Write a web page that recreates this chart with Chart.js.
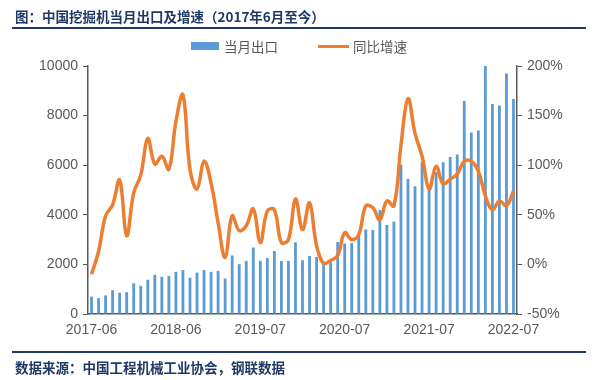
<!DOCTYPE html>
<html>
<head>
<meta charset="utf-8">
<script src="https://cdn.jsdelivr.net/npm/chart.js@4/dist/chart.umd.min.js"></script>
<style>
  html, body { margin: 0; padding: 0; background: #ffffff; }
  #wrap { position: relative; width: 600px; height: 380px; overflow: hidden; font-family: "Noto Sans CJK SC", "Noto Sans", sans-serif; }
  #c { position: absolute; left: 0; top: 0; }
  .title { position: absolute; left: 15px; top: 6px; font-size: 13.5px; font-weight: bold; color: #1F3864; white-space: nowrap; }
  .rule { position: absolute; left: 12px; width: 574px; background: #1F3864; }
  .src { position: absolute; left: 15px; top: 357px; font-size: 13.5px; font-weight: bold; color: #1F3864; white-space: nowrap; }
  .legend { position: absolute; top: 37px; font-size: 13.5px; color: #595959; white-space: nowrap; }
  .lg-item { position: absolute; top: 0; display: flex; align-items: center; height: 18px; }
  .sw-bar { width: 28px; height: 8px; background: #5B9BD5; margin-right: 5px; }
  .sw-line { width: 31px; height: 3px; background: #ED7D31; margin-right: 4px; }
</style>
</head>
<body>
<div id="wrap">
  <canvas id="c" width="600" height="380"></canvas>
  <div class="title">图：中国挖掘机当月出口及增速（2017年6月至今）</div>
  <div class="rule" style="top:27px;height:2px;"></div>
  <div class="legend">
    <div class="lg-item" style="left:191px;"><div class="sw-bar"></div><span>当月出口</span></div>
    <div class="lg-item" style="left:318px;"><div class="sw-line"></div><span>同比增速</span></div>
  </div>
  <div class="rule" style="top:351px;height:1.5px;"></div>
  <div class="src">数据来源：中国工程机械工业协会，钢联数据</div>
</div>
<script>
const months = [
  "2017-06","2017-07","2017-08","2017-09","2017-10","2017-11","2017-12",
  "2018-01","2018-02","2018-03","2018-04","2018-05","2018-06","2018-07","2018-08","2018-09","2018-10","2018-11","2018-12",
  "2019-02","2019-03","2019-04","2019-05","2019-06","2019-07","2019-08","2019-09","2019-10","2019-11","2019-12",
  "2020-01","2020-02","2020-03","2020-04","2020-05","2020-06","2020-07","2020-08","2020-09","2020-10","2020-11","2020-12",
  "2021-01","2021-02","2021-03","2021-04","2021-05","2021-06","2021-07","2021-08","2021-09","2021-10","2021-11","2021-12",
  "2022-01","2022-02","2022-03","2022-04","2022-05","2022-06","2022-07"
];
const monthlyExports = [
  700,640,750,960,860,880,1240,1140,1380,1580,1500,1530,
  1700,1770,1460,1670,1770,1700,1740,1430,2360,2010,2140,2680,
  2140,2260,2540,2140,2140,2890,2170,2340,2300,2080,2080,2900,
  2840,2860,3150,3410,3390,4190,3590,3720,6030,5450,5150,6120,
  5200,5720,6120,6330,6430,8590,7320,7400,10000,8470,8410,9700,8670
];
const yoyGrowth = [
  -10,13,49,60,85,29,72,90,127,101,109,96,
  144,171,96,76,104,82,42,7,49,34,39,56,
  22,54,55,22,25,66,35,62,19,1,4,9,
  32,25,30,59,57,45,64,59,120,167,132,109,
  76,99,81,86,91,104,104,94,69,55,64,59,74
];
const leftTicks = [0,2000,4000,6000,8000,10000];
const rightTicks = [-50,0,50,100,150,200];
const xLabelEvery = 12;

const axisColor = '#595959';
const tickFont = { family: '"Liberation Sans", Arial, sans-serif', size: 14 };

new Chart(document.getElementById('c'), {
  data: {
    labels: months,
    datasets: [
      {
        type: 'line',
        label: '同比增速',
        data: yoyGrowth,
        yAxisID: 'y1',
        borderColor: '#ED7D31',
        borderWidth: 3.5,
        pointRadius: 0,
        tension: 0.4,
        fill: false,
        order: 0
      },
      {
        type: 'bar',
        label: '当月出口',
        data: monthlyExports,
        yAxisID: 'y',
        backgroundColor: '#5B9BD5',
        barPercentage: 0.4,
        categoryPercentage: 1.0,
        order: 1
      }
    ]
  },
  options: {
    responsive: false,
    animation: false,
    layout: { padding: { top: 66, bottom: 36, left: 0, right: 0 } },
    plugins: { legend: { display: false }, tooltip: { enabled: false } },
    scales: {
      x: {
        offset: true,
        grid: { display: false, drawTicks: false },
        border: { display: true, color: axisColor, width: 1.5 },
        ticks: {
          autoSkip: false, maxRotation: 0, minRotation: 0, padding: 8,
          color: axisColor, font: tickFont,
          callback: function(v, i) { return i % xLabelEvery === 0 ? months[i] : ''; }
        },
        afterFit: function(s) { s.height = 30; }
      },
      y: {
        position: 'left',
        min: 0, max: 10000,
        afterBuildTicks: function(s) { s.ticks = leftTicks.map(v => ({ value: v })); },
        grid: { drawOnChartArea: false, drawTicks: true, tickLength: 5, color: axisColor },
        border: { display: true, color: axisColor, width: 1.5 },
        ticks: { color: axisColor, font: tickFont, padding: 5, callback: v => String(v) },
        afterFit: function(s) { s.width = 88; }
      },
      y1: {
        position: 'right',
        min: -50, max: 200,
        afterBuildTicks: function(s) { s.ticks = rightTicks.map(v => ({ value: v })); },
        grid: { drawOnChartArea: false, drawTicks: true, tickLength: 5, color: axisColor },
        border: { display: true, color: axisColor, width: 1.5 },
        ticks: { color: axisColor, font: tickFont, padding: 5, callback: v => v + '%' },
        afterFit: function(s) { s.width = 83; }
      }
    }
  }
});
</script>
</body>
</html>
